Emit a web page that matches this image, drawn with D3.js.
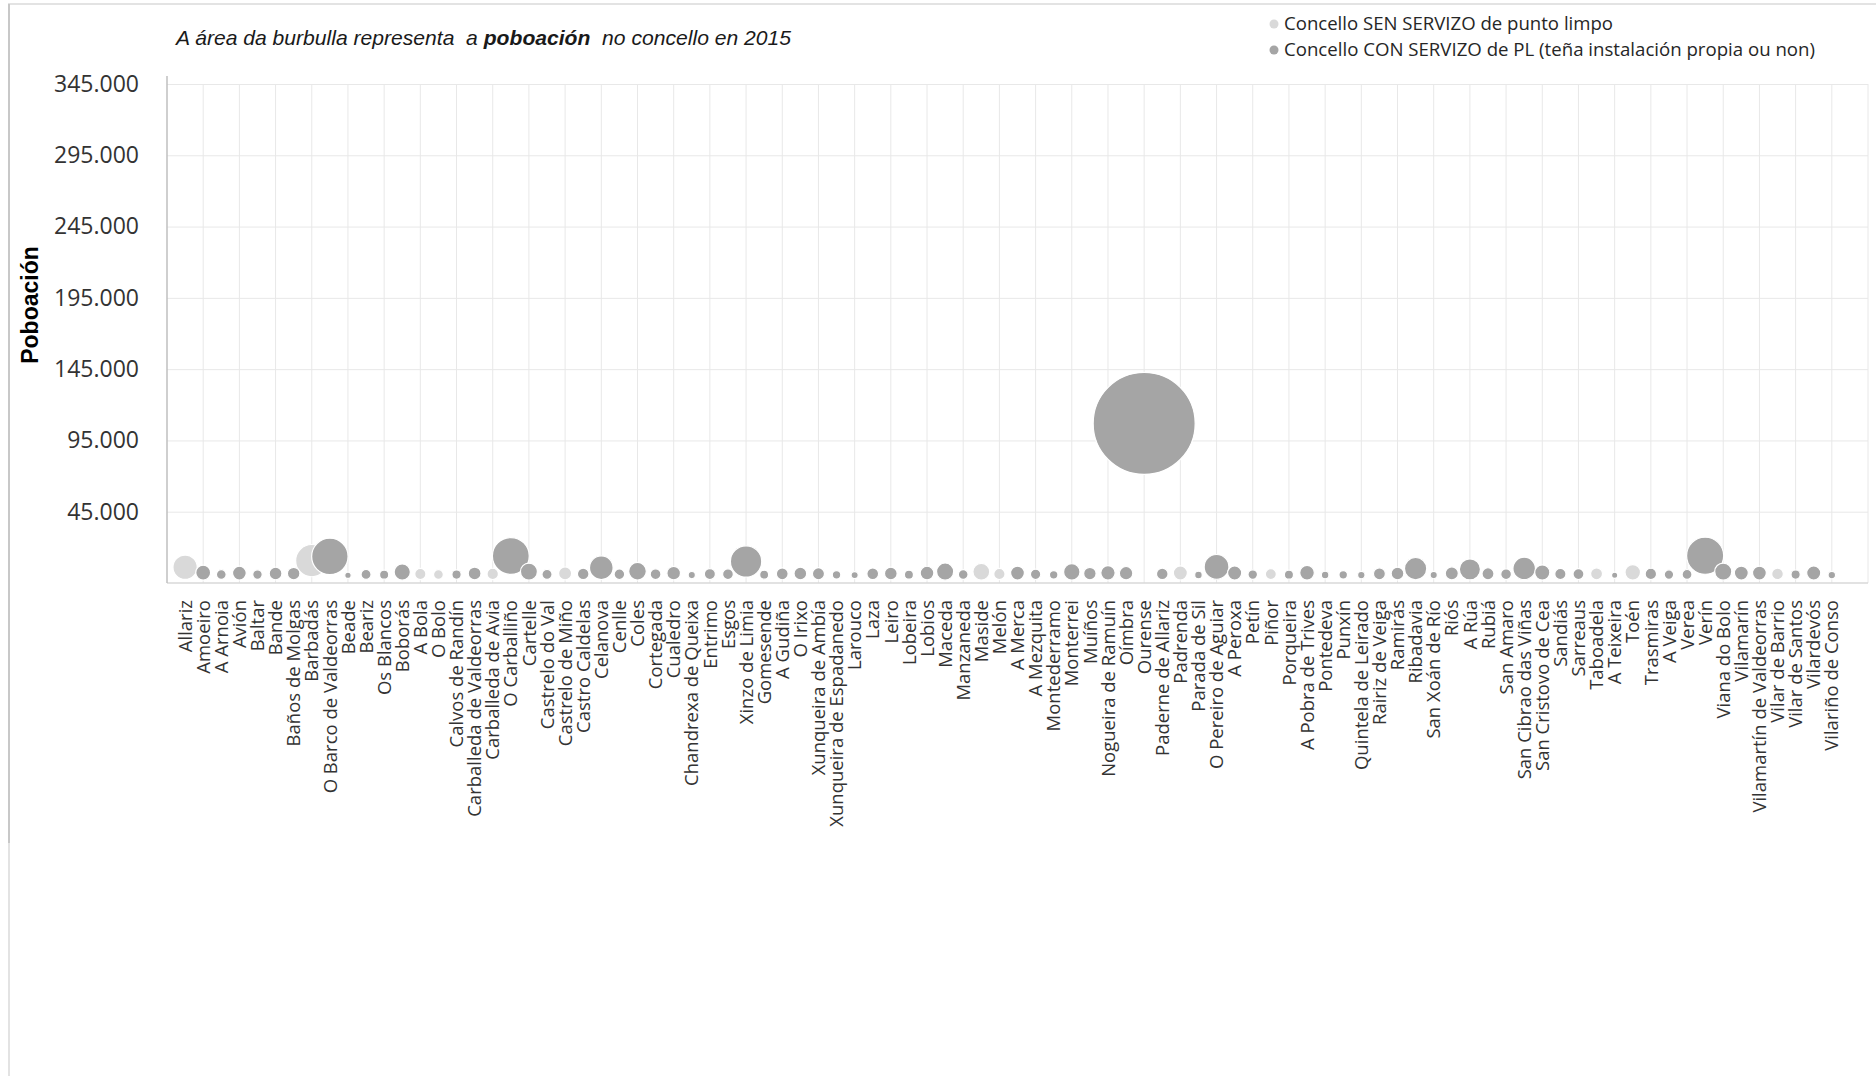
<!DOCTYPE html>
<html><head><meta charset="utf-8">
<script src="https://cdn.jsdelivr.net/npm/d3@7"></script>
<style>
body{margin:0;background:#fff;}
svg{display:block;}
</style></head><body>
<svg id="chart" width="1876" height="1076"></svg>
<script>
// ---- DATA ----
const concellos = ["Allariz","Amoeiro","A Arnoia","Avión","Baltar","Bande","Baños de Molgas","Barbadás","O Barco de Valdeorras","Beade","Beariz","Os Blancos","Boborás","A Bola","O Bolo","Calvos de Randín","Carballeda de Valdeorras","Carballeda de Avia","O Carballiño","Cartelle","Castrelo do Val","Castrelo de Miño","Castro Caldelas","Celanova","Cenlle","Coles","Cortegada","Cualedro","Chandrexa de Queixa","Entrimo","Esgos","Xinzo de Limia","Gomesende","A Gudiña","O Irixo","Xunqueira de Ambía","Xunqueira de Espadanedo","Larouco","Laza","Leiro","Lobeira","Lobios","Maceda","Manzaneda","Maside","Melón","A Merca","A Mezquita","Montederramo","Monterrei","Muíños","Nogueira de Ramuín","Oímbra","Ourense","Paderne de Allariz","Padrenda","Parada de Sil","O Pereiro de Aguiar","A Peroxa","Petín","Piñor","Porqueira","A Pobra de Trives","Pontedeva","Punxín","Quintela de Leirado","Rairiz de Veiga","Ramirás","Ribadavia","San Xoán de Río","Riós","A Rúa","Rubiá","San Amaro","San Cibrao das Viñas","San Cristovo de Cea","Sandiás","Sarreaus","Taboadela","A Teixeira","Toén","Trasmiras","A Veiga","Verea","Verín","Viana do Bolo","Vilamarín","Vilamartín de Valdeorras","Vilar de Barrio","Vilar de Santos","Vilardevós","Vilariño de Conso"];

const poboacion = [6060,2266,979,1949,929,1668,1614,10684,13634,420,1026,863,2706,1284,990,889,1683,1342,13956,2948,1053,1753,1375,5746,1153,3213,1186,1901,540,1262,1185,10076,825,1432,1656,1499,747,527,1419,1658,843,1930,3023,964,2906,1313,1959,1101,745,2763,1606,2128,1863,106905,1381,2025,590,6310,2051,932,1244,854,2200,584,748,569,1468,1661,5094,546,1756,4573,1479,1176,5214,2358,1293,1233,1462,395,2473,1337,918,1004,14131,3005,1991,1960,1400,877,2050,581];

// 1 = con servizo de punto limpo, 0 = sen servizo
const servizo = [0,1,1,1,1,1,1,0,1,1,1,1,1,0,0,1,1,0,1,1,1,0,1,1,1,1,1,1,1,1,1,1,1,1,1,1,1,1,1,1,1,1,1,1,0,0,1,1,1,1,1,1,1,1,1,0,1,1,1,1,0,1,1,1,1,1,1,1,1,1,1,1,1,1,1,1,1,1,0,1,0,1,1,1,1,1,1,1,0,1,1,1];

const yTicks = [45000,95000,145000,195000,245000,295000,345000];
const yDomain = [-5000, 345000];
const legendLabels = ["Concello SEN SERVIZO de punto limpo","Concello CON SERVIZO de PL (teña instalación propia ou non)"];
const colors = ["#d9d9d9","#a5a5a5"];

// ---- CHART ----
const svg = d3.select("#chart");
const plot = {left:167, right:1868, top:84, bottom:583};

// frame
svg.append("rect").attr("x",9).attr("y",4).attr("width",1880).attr("height",1100)
  .attr("fill","none").attr("stroke","#e3e3e3").attr("stroke-width",2);
svg.append("line").attr("x1",9).attr("x2",9).attr("y1",4).attr("y2",843)
  .attr("stroke","#c8c8c8").attr("stroke-width",2);

const x = d3.scaleLinear().domain([0, concellos.length + 2]).range([plot.left, plot.right]);
const y = d3.scaleLinear().domain(yDomain).range([plot.bottom, plot.top]);
const r = d3.scaleSqrt().domain([0, d3.max(poboacion)]).range([0, 51]);

const loc = d3.formatLocale({decimal:",", thousands:".", grouping:[3], currency:["","€"]});
const fmt = loc.format(",d");

// vertical gridlines
const xGrid = d3.range(2, concellos.length + 3, 2);
svg.append("g").selectAll("line").data(xGrid).join("line")
  .attr("x1",d=>x(d)).attr("x2",d=>x(d)).attr("y1",plot.top).attr("y2",plot.bottom)
  .attr("stroke","#e8e8e8").attr("stroke-width",1);

// horizontal gridlines + y axis
const yAxis = d3.axisLeft(y).tickValues(yTicks).tickFormat(fmt).tickSize(-(plot.right-plot.left)).tickPadding(28);
const gy = svg.append("g").attr("transform",`translate(${plot.left},0)`).call(yAxis);
gy.select(".domain").remove();
gy.selectAll(".tick line").attr("stroke","#e8e8e8");
gy.selectAll(".tick text").attr("font-family","'Open Sans',sans-serif").attr("font-size",23).attr("fill","#333");

// axis lines
svg.append("line").attr("x1",plot.left).attr("x2",plot.right).attr("y1",plot.bottom).attr("y2",plot.bottom)
  .attr("stroke","#d9d9d9").attr("stroke-width",1.5);
svg.append("line").attr("x1",plot.left).attr("x2",plot.left).attr("y1",plot.top-8).attr("y2",plot.bottom)
  .attr("stroke","#bfbfbf").attr("stroke-width",1.5);

// bubbles
const data = concellos.map((c,i)=>({name:c, pop:poboacion[i], s:servizo[i], idx:i+1}));
const order = data.slice().sort((a,b)=> (a.s-b.s) || (b.pop-a.pop));
svg.append("g").selectAll("circle").data(order).join("circle")
  .attr("cx",d=>x(d.idx)).attr("cy",d=>y(d.pop)).attr("r",d=>r(d.pop))
  .attr("fill",d=>colors[d.s]).attr("stroke","#fff").attr("stroke-width",1.2);

// x labels
svg.append("g").selectAll("text").data(data).join("text")
  .attr("transform",d=>`translate(${x(d.idx)},600) rotate(-90)`)
  .attr("text-anchor","end").attr("dy","0.36em")
  .attr("font-family","'Open Sans',sans-serif").attr("font-size",18.5).attr("fill","#333")
  .text(d=>d.name);

// y title
svg.append("text").attr("transform","translate(30,305) rotate(-90)")
  .attr("text-anchor","middle").attr("dy","0.36em")
  .attr("font-family","'Liberation Sans',Arial,sans-serif").attr("font-weight","bold").attr("font-size",23).attr("fill","#000")
  .text("Poboación");

// title
const t = svg.append("text").attr("x",176).attr("y",45)
  .attr("font-family","'Liberation Sans Narrow','Arial Narrow','Liberation Sans',sans-serif")
  .attr("font-style","italic").attr("font-size",21).attr("fill","#1a1a1a")
  .attr("textLength",615).attr("lengthAdjust","spacingAndGlyphs")
  .style("white-space","pre");
t.append("tspan").text("A área da burbulla representa  a ");
t.append("tspan").attr("font-weight","bold").text("poboación");
t.append("tspan").text("  no concello en 2015");

// legend
const legendWidths = [329, 531];
const lg = svg.append("g").selectAll("g").data(legendLabels).join("g")
  .attr("transform",(d,i)=>`translate(1274,${24+i*26})`);
lg.append("circle").attr("r",4.5).attr("fill",(d,i)=>colors[i]);
lg.append("text").attr("x",10).attr("dy","0.36em")
  .attr("font-family","'Open Sans',sans-serif").attr("font-size",17.5).attr("fill","#262626")
  .attr("textLength",(d,i)=>legendWidths[i]).attr("lengthAdjust","spacingAndGlyphs")
  .text(d=>d);
</script>
</body></html>
